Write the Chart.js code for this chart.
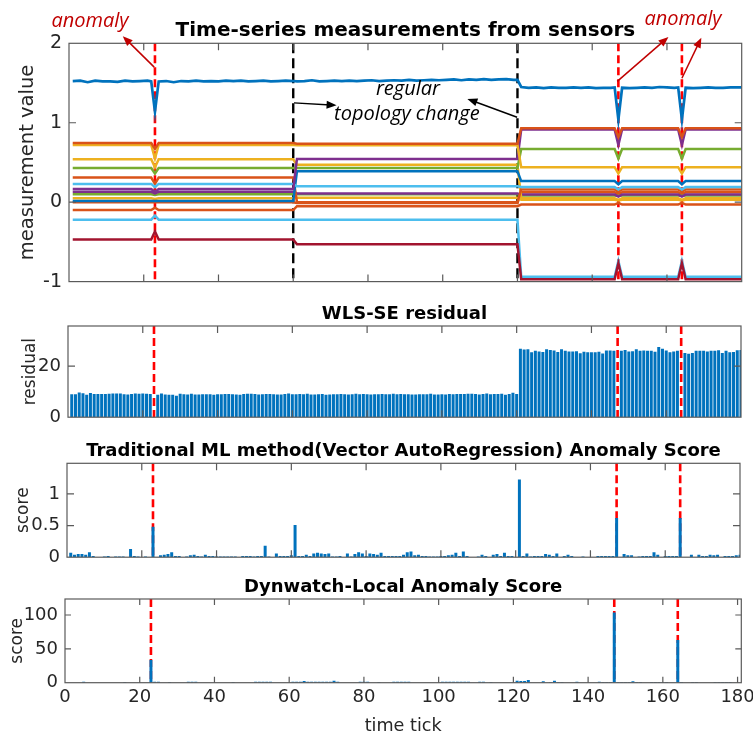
<!DOCTYPE html>
<html>
<head>
<meta charset="utf-8">
<script src="https://cdn.jsdelivr.net/npm/chart.js@4.4.0/dist/chart.umd.min.js"></script>
<style>
  html, body { margin: 0; padding: 0; background: #fff; overflow: hidden; }
  body { width: 753px; height: 733px; position: relative; }
  canvas { position: absolute; left: 0; }
</style>
</head>
<body>
<canvas id="c1" width="753" height="300" style="top:0"></canvas>
<canvas id="c2" width="753" height="135" style="top:300px"></canvas>
<canvas id="c3" width="753" height="140" style="top:435px"></canvas>
<canvas id="c4" width="790" height="158" style="top:575px"></canvas>
<script>
// ---- data ----
const X_TICKS = [0, 20, 40, 60, 80, 100, 120, 140, 160, 180];
const Y_TICKS_MEAS = [-1, 0, 1, 2];
const Y_TICKS_RESID = [0, 20];
const Y_TICKS_VAR = [0, 0.5, 1];
const Y_TICKS_DYN = [0, 50, 100];

const ANOMALY_T = [23, 147, 164];
const TOPO_T = [60, 120];

// time ticks where the sensor levels change (segments, anomalies)
const KEY_T = [1, 22, 23, 24, 60, 61, 120, 121, 146, 147, 148, 163, 164, 165, 180];

// top sensor, [tick, value]
const sens01 = [[1,1.525],[3,1.53],[5,1.51],[7,1.53],[9,1.52],[11,1.52],[13,1.515],[15,1.53],[17,1.52],[19,1.525],
  [21,1.53],[22,1.52],[23,1.14],[24,1.52],[26,1.525],[28,1.51],[30,1.525],[32,1.52],[34,1.53],[36,1.52],
  [38,1.525],[40,1.52],[42,1.53],[44,1.525],[46,1.53],[48,1.52],[50,1.525],[52,1.53],[54,1.52],[56,1.525],
  [58,1.53],[60,1.525],[61,1.52],[63,1.525],[65,1.535],[67,1.52],[69,1.525],[71,1.53],[73,1.525],[75,1.53],
  [77,1.525],[79,1.53],[81,1.535],[83,1.525],[85,1.53],[87,1.535],[89,1.53],[91,1.54],[93,1.53],[95,1.535],
  [97,1.54],[99,1.535],[101,1.54],[103,1.545],[105,1.535],[107,1.545],[109,1.54],[111,1.55],[113,1.54],[115,1.545],
  [117,1.55],[119,1.54],[120,1.54],[121,1.45],[123,1.44],[125,1.445],[127,1.435],[129,1.445],[131,1.44],[133,1.44],
  [135,1.445],[137,1.44],[139,1.445],[141,1.435],[143,1.44],[145,1.44],[146,1.445],[147,1.04],[148,1.44],[150,1.435],
  [152,1.44],[154,1.445],[156,1.44],[158,1.45],[160,1.445],[162,1.44],[163,1.445],[164,1.04],[165,1.44],[167,1.435],
  [169,1.44],[171,1.445],[173,1.44],[175,1.44],[177,1.445],[180,1.445]];

// other sensors, one value per KEY_T entry
const sens02 = [0.745,0.745,0.67,0.745,0.745,0.735,0.735,0.93,0.93,0.82,0.93,0.93,0.82,0.93,0.93];
const sens03 = [0.72,0.72,0.55,0.72,0.72,0.715,0.715,0.44,0.44,0.36,0.44,0.44,0.36,0.44,0.44];
const sens04 = [0.165,0.165,0.13,0.165,0.165,0.545,0.545,0.915,0.915,0.72,0.915,0.915,0.72,0.915,0.915];
const sens05 = [0.43,0.43,0.36,0.43,0.43,0.43,0.43,0.67,0.67,0.55,0.67,0.67,0.55,0.67,0.67];
const sens06 = [0.23,0.23,0.19,0.23,0.23,0.20,0.20,0.19,0.19,0.16,0.19,0.19,0.16,0.19,0.19];
const sens07 = [-0.47,-0.47,-0.37,-0.47,-0.47,-0.53,-0.53,-0.97,-0.97,-0.77,-0.97,-0.97,-0.77,-0.97,-0.97];
const sens08 = [0.015,0.015,0.015,0.015,0.015,0.39,0.39,0.265,0.265,0.225,0.265,0.265,0.225,0.265,0.265];
const sens09 = [0.31,0.31,0.23,0.31,0.31,0.0,0.0,0.16,0.16,0.13,0.16,0.16,0.13,0.16,0.16];
const sens10 = [0.54,0.54,0.44,0.54,0.54,0.47,0.47,0.05,0.05,0.03,0.05,0.05,0.03,0.05,0.05];
const sens11 = [0.13,0.13,0.11,0.13,0.13,0.11,0.11,0.095,0.095,0.07,0.095,0.095,0.07,0.095,0.095];
const sens12 = [0.10,0.10,0.09,0.10,0.10,0.10,0.10,0.085,0.085,0.08,0.085,0.085,0.08,0.085,0.085];
const sens13 = [-0.22,-0.22,-0.17,-0.22,-0.22,-0.22,-0.22,-0.94,-0.94,-0.74,-0.94,-0.94,-0.74,-0.94,-0.94];
const sens14 = [-0.10,-0.10,-0.07,-0.10,-0.10,-0.05,-0.05,-0.03,-0.03,-0.01,-0.03,-0.03,-0.01,-0.03,-0.03];
const sens15 = [0.05,0.05,0.04,0.05,0.05,0.055,0.055,0.03,0.03,0.02,0.03,0.03,0.02,0.03,0.03];
const sens16 = [0.0,0.0,0.0,0.0,0.0,-0.01,-0.01,0.125,0.125,0.10,0.125,0.125,0.10,0.125,0.125];

// WLS-SE residual, ticks 1..180 (no bar at anomaly ticks)
const residual = [
  9.0,9.0,9.7,9.4,8.8,9.5,9.1,9.1,9.1,9.1,9.2,9.3,9.3,9.3,9.0,8.9,9.1,9.3,9.2,9.3,
  9.2,9.1,null,8.8,9.3,8.9,8.8,8.8,8.4,9.2,9.0,8.9,9.2,8.9,8.9,9.0,9.0,9.0,8.8,9.0,
  9.0,9.1,9.1,9.0,8.9,8.8,9.1,9.2,9.2,9.1,8.9,9.0,9.1,9.1,9.0,8.9,8.9,9.1,9.3,9.0,
  9.0,9.1,9.0,9.2,8.9,8.9,9.0,9.1,8.8,8.9,9.0,9.0,9.1,9.0,8.9,9.0,9.2,9.0,9.1,9.0,
  8.9,9.0,9.0,9.1,9.0,9.0,9.2,9.0,9.1,9.0,9.0,8.9,8.9,9.0,9.0,9.0,9.2,8.9,8.9,9.0,
  8.9,9.1,9.0,9.1,9.1,9.1,9.2,9.2,9.1,8.9,9.1,9.3,9.0,9.1,9.1,9.2,8.8,9.1,9.6,9.1,
  26.8,26.5,26.6,25.4,26.0,25.7,25.5,26.6,26.3,26.1,25.5,26.6,26.0,25.7,25.7,25.8,25.0,25.6,25.4,25.4,
  25.4,25.6,24.9,26.1,26.1,26.0,null,26.0,26.3,25.7,25.8,26.6,26.0,26.1,26.0,26.0,25.6,27.4,26.8,26.1,
  25.4,25.7,26.0,null,25.1,24.8,25.1,26.0,26.0,26.0,25.7,26.0,26.0,26.2,25.1,26.0,25.4,25.5,26.2,26.3
];

// Vector AutoRegression anomaly score, ticks 1..180
const varScore = [
  0.07,0.04,0.05,0.05,0.04,0.08,0.02,0,0,0.01,0.02,0,0.01,0.01,0.01,0,0.13,0.02,0.01,0,
  0.01,0,0.48,0,0.03,0.04,0.05,0.08,0.02,0.02,0,0.01,0.03,0.04,0.02,0.01,0.04,0.02,0.02,0.01,
  0.01,0.01,0.01,0.01,0.01,0,0.02,0.02,0.02,0.01,0.02,0.02,0.18,0.01,0,0.06,0.02,0.02,0.02,0.03,
  0.51,0.02,0.02,0.04,0.02,0.06,0.07,0.06,0.05,0.06,0.01,0.01,0.02,0,0.06,0.01,0.05,0.08,0.06,0.02,
  0.06,0.05,0.04,0.07,0.02,0.02,0.02,0.02,0.02,0.04,0.08,0.09,0.03,0.04,0.02,0.02,0.01,0.01,0.01,0.02,
  0.02,0.03,0.04,0.07,0.02,0.09,0.02,0,0,0.01,0.04,0.02,0,0.04,0.05,0.02,0.07,0.02,0.02,0,
  1.23,0.02,0.06,0.01,0.02,0.02,0.02,0.05,0.04,0.02,0.06,0,0.02,0.04,0.02,0,0,0.01,0,0,
  0,0.02,0.02,0.02,0.02,0.02,0.62,0,0.05,0.03,0.03,0,0.01,0.02,0.02,0.02,0.08,0.04,0,0.02,
  0.02,0.02,0.02,0.62,0,0,0.04,0,0.04,0.02,0.02,0.04,0.03,0.04,0,0.02,0.02,0.02,0.03,0.04
];

// Dynwatch-Local anomaly score, ticks 1..180
const dynScore = [
  0,0,0,0,1.5,0,0,0,0,0,0,0,0,0,0,1.2,0,0,0,0,
  0,0,33.5,1.5,1.5,0,0,1.2,0,0,0,0,1.5,1.5,1.5,0,0,0,0,0,
  0,0,0,0,1.2,0,0,0,0,0,1.5,1.5,1.5,1.5,1.5,0,0,0,0,0,
  1.5,1.5,1.5,2.5,1.5,1.5,1.5,1.5,1.5,1.5,1.5,3,1.5,0,0,0,0,0,1.5,1.5,
  1.5,0,0,1.2,0,0,0,1.5,1.5,1.5,1.5,1.5,0,0,0,0,0,0,0,0,
  1.5,1.5,1.5,1.5,1.5,1.5,1.5,1.5,0,0,1.5,1.5,0,1.2,0,0,0,0,0,0,
  3,2.5,2.5,4,0,0,0,2,0,1.2,3,1.2,1.2,0,0,0,1.5,0,0,0,
  0,0,1.5,1.2,1.2,1.2,103.5,1.2,1.2,1.2,1.2,2,1.2,1.2,0,0,1.2,1.2,1.2,1.2,
  1.2,0,0,63,1.2,0,0,1.2,1.2,0,0,0,0,1.2,1.2,1.2,1.2,1.2,0,0
];

// ---- styling ----
const BLUE = '#0072BD', ORANGE = '#D95319', YELLOW = '#EDB120', PURPLE = '#7E2F8E',
      GREEN = '#77AC30', LTBLUE = '#4DBEEE', DKRED = '#A2142F';
const FONT = '"DejaVu Sans"';
const INK = '#262626';
Chart.defaults.font.family = FONT;
Chart.defaults.color = INK;

const redLines = ANOMALY_T.map(t => ({ x: t, color: '#FF0000', dash: [8, 4], width: 2.6 }));
const blackLines = TOPO_T.map(t => ({ x: t, color: '#000', dash: [10, 5], width: 2.4 }));

function frame(cfg) {
  return {
    id: 'frame',
    beforeDatasetsDraw(chart) {
      const { ctx, chartArea: a, scales } = chart;
      ctx.save();
      cfg.vlines.forEach(v => {
        const px = scales.x.getPixelForValue(v.x);
        ctx.strokeStyle = v.color;
        ctx.lineWidth = v.width;
        ctx.setLineDash(v.dash);
        ctx.beginPath();
        ctx.moveTo(px, a.top);
        ctx.lineTo(px, a.bottom);
        ctx.stroke();
      });
      ctx.restore();
    },
    afterDraw(chart) {
      const { ctx, chartArea: a, scales: { x, y } } = chart;
      const L = cfg.tickLen;
      ctx.save();
      // box + inward ticks on all four sides
      ctx.strokeStyle = '#5a5a5a';
      ctx.lineWidth = 1.2;
      ctx.strokeRect(a.left, a.top, a.right - a.left, a.bottom - a.top);
      ctx.beginPath();
      x.ticks.forEach(t => {
        const px = x.getPixelForValue(t.value);
        if (px < a.left + 1 || px > a.right - 1) return;
        ctx.moveTo(px, a.bottom); ctx.lineTo(px, a.bottom - L);
        ctx.moveTo(px, a.top); ctx.lineTo(px, a.top + L);
      });
      y.ticks.forEach(t => {
        const py = y.getPixelForValue(t.value);
        if (py < a.top + 1 || py > a.bottom - 1) return;
        ctx.moveTo(a.left, py); ctx.lineTo(a.left + L, py);
        ctx.moveTo(a.right, py); ctx.lineTo(a.right - L, py);
      });
      ctx.stroke();

      // title
      ctx.fillStyle = '#000';
      ctx.font = 'bold ' + cfg.titleSize + 'px ' + FONT;
      ctx.textAlign = 'center';
      ctx.textBaseline = 'alphabetic';
      ctx.fillText(cfg.title, (a.left + a.right) / 2, a.top - 7);

      // y label
      ctx.save();
      ctx.translate(cfg.ylabelX, (a.top + a.bottom) / 2);
      ctx.rotate(-Math.PI / 2);
      ctx.fillStyle = INK;
      ctx.font = cfg.ylabelSize + 'px ' + FONT;
      ctx.fillText(cfg.ylabel, 0, 0);
      ctx.restore();

      if (cfg.xlabel) {
        ctx.fillStyle = INK;
        ctx.font = cfg.xlabelSize + 'px ' + FONT;
        ctx.fillText(cfg.xlabel, (a.left + a.right) / 2, cfg.xlabelY);
      }

      // arrows + notes, placed in data units
      (cfg.arrows || []).forEach(ar => {
        const x1 = x.getPixelForValue(ar.t1), y1 = y.getPixelForValue(ar.v1);
        const x2 = x.getPixelForValue(ar.t2), y2 = y.getPixelForValue(ar.v2);
        const ang = Math.atan2(y2 - y1, x2 - x1);
        ctx.strokeStyle = ar.color;
        ctx.fillStyle = ar.color;
        ctx.lineWidth = 1.5;
        ctx.beginPath();
        ctx.moveTo(x1, y1);
        ctx.lineTo(x2 - 6 * Math.cos(ang), y2 - 6 * Math.sin(ang));
        ctx.stroke();
        ctx.beginPath();
        ctx.moveTo(x2, y2);
        ctx.lineTo(x2 - 10 * Math.cos(ang) + 4 * Math.sin(ang), y2 - 10 * Math.sin(ang) - 4 * Math.cos(ang));
        ctx.lineTo(x2 - 10 * Math.cos(ang) - 4 * Math.sin(ang), y2 - 10 * Math.sin(ang) + 4 * Math.cos(ang));
        ctx.closePath();
        ctx.fill();
      });
      (cfg.notes || []).forEach(n => {
        ctx.fillStyle = n.color;
        ctx.font = 'italic 20px "Open Sans"';
        ctx.textAlign = 'center';
        ctx.textBaseline = 'middle';
        ctx.fillText(n.text, x.getPixelForValue(n.t), y.getPixelForValue(n.v));
      });
      ctx.restore();
    }
  };
}

function xScale(max, showLabels, height) {
  return {
    type: 'linear', min: 0, max: max, offset: false,
    grid: { display: false, drawTicks: false, offset: false },
    border: { display: false },
    ticks: { display: showLabels, padding: 4, color: INK, font: { size: 18 },
             autoSkip: false, maxRotation: 0, callback: v => String(v) },
    afterBuildTicks: s => { s.ticks = X_TICKS.map(v => ({ value: v })); },
    afterFit: s => { s.height = height; }
  };
}

function yScale(min, max, ticks, width, size) {
  return {
    min: min, max: max,
    grid: { display: false, drawTicks: false },
    border: { display: false },
    ticks: { padding: 7, color: INK, font: { size: size }, callback: v => String(v) },
    afterBuildTicks: s => { s.ticks = ticks.map(v => ({ value: v })); },
    afterFit: s => { s.width = width; }
  };
}

const baseOpts = {
  responsive: false,
  animation: false,
  events: [],
  plugins: { legend: { display: false }, tooltip: { enabled: false } }
};

// ---- panel 1: sensor measurements ----
const sensorSets = [
  [sens02, ORANGE], [sens03, YELLOW], [sens04, PURPLE], [sens05, GREEN], [sens06, LTBLUE],
  [sens07, DKRED], [sens08, BLUE], [sens09, ORANGE], [sens10, YELLOW], [sens11, PURPLE],
  [sens12, GREEN], [sens13, LTBLUE], [sens14, ORANGE], [sens15, YELLOW], [sens16, ORANGE]
];
const lineSets = [{
  data: sens01.map(p => ({ x: p[0], y: p[1] })),
  borderColor: BLUE, borderWidth: 2.7, pointRadius: 0, tension: 0
}].concat(sensorSets.map(([vals, col]) => ({
  data: vals.map((v, i) => ({ x: KEY_T[i], y: v })),
  borderColor: col, borderWidth: 2.5, pointRadius: 0, tension: 0
})));

new Chart(document.getElementById('c1'), {
  type: 'line',
  data: { datasets: lineSets },
  options: Object.assign({}, baseOpts, {
    layout: { padding: { top: 43.3, right: 11.3, bottom: 6.7, left: 0 } },
    scales: { x: xScale(180, false, 0), y: yScale(-1, 2, Y_TICKS_MEAS, 69, 19) }
  }),
  plugins: [frame({
    title: 'Time-series measurements from sensors', titleSize: 20,
    ylabel: 'measurement value', ylabelX: 33, ylabelSize: 19.5, tickLen: 7,
    vlines: blackLines.concat(redLines),
    arrows: [
      { t1: 22.8, v1: 1.70, t2: 14.4, v2: 2.09, color: '#C00000' },
      { t1: 146.7, v1: 1.52, t2: 160.4, v2: 2.08, color: '#C00000' },
      { t1: 164.0, v1: 1.56, t2: 169.2, v2: 2.07, color: '#C00000' },
      { t1: 60.2, v1: 1.25, t2: 71.6, v2: 1.22, color: '#000' },
      { t1: 119.9, v1: 1.07, t2: 106.6, v2: 1.30, color: '#000' }
    ],
    notes: [
      { text: 'anomaly', t: 5.6, v: 2.28, color: '#C00000' },
      { text: 'anomaly', t: 164.3, v: 2.30, color: '#C00000' },
      { text: 'regular', t: 90.7, v: 1.42, color: '#000' },
      { text: 'topology change', t: 90.4, v: 1.10, color: '#000' }
    ]
  })]
});

// ---- panels 2-4: bar panels ----
function barSet(vals) {
  return [{
    data: vals.map((v, i) => ({ x: i + 1, y: v })),
    backgroundColor: BLUE, borderWidth: 0,
    barPercentage: 0.8, categoryPercentage: 1
  }];
}

new Chart(document.getElementById('c2'), {
  type: 'bar',
  data: { datasets: barSet(residual) },
  options: Object.assign({}, baseOpts, {
    layout: { padding: { top: 26, right: 12, bottom: 5, left: 0 } },
    scales: { x: xScale(180, false, 0), y: yScale(0, 35.65, Y_TICKS_RESID, 68, 18) }
  }),
  plugins: [frame({
    title: 'WLS-SE residual', titleSize: 18,
    ylabel: 'residual', ylabelX: 35, ylabelSize: 17, tickLen: 7,
    vlines: redLines
  })]
});

new Chart(document.getElementById('c3'), {
  type: 'bar',
  data: { datasets: barSet(varScore) },
  options: Object.assign({}, baseOpts, {
    layout: { padding: { top: 28.3, right: 13, bottom: 6.7, left: 0 } },
    scales: { x: xScale(180, false, 0), y: yScale(0, 1.485, Y_TICKS_VAR, 67, 18) }
  }),
  plugins: [frame({
    title: 'Traditional ML method(Vector AutoRegression) Anomaly Score', titleSize: 18,
    ylabel: 'score', ylabelX: 28.3, ylabelSize: 17, tickLen: 7,
    vlines: redLines
  })]
});

// canvas is wider than the page so the "180" label does not squeeze the plot
new Chart(document.getElementById('c4'), {
  type: 'bar',
  data: { datasets: barSet(dynScore) },
  options: Object.assign({}, baseOpts, {
    layout: { padding: { top: 24, right: 48.7, bottom: 0, left: 0 } },
    scales: { x: xScale(181, true, 50.3), y: yScale(0, 123.6, Y_TICKS_DYN, 65, 18) }
  }),
  plugins: [frame({
    title: 'Dynwatch-Local Anomaly Score', titleSize: 18,
    ylabel: 'score', ylabelX: 21.7, ylabelSize: 17, tickLen: 6,
    vlines: redLines,
    xlabel: 'time tick', xlabelSize: 17.6, xlabelY: 156
  })]
});
</script>
</body>
</html>
